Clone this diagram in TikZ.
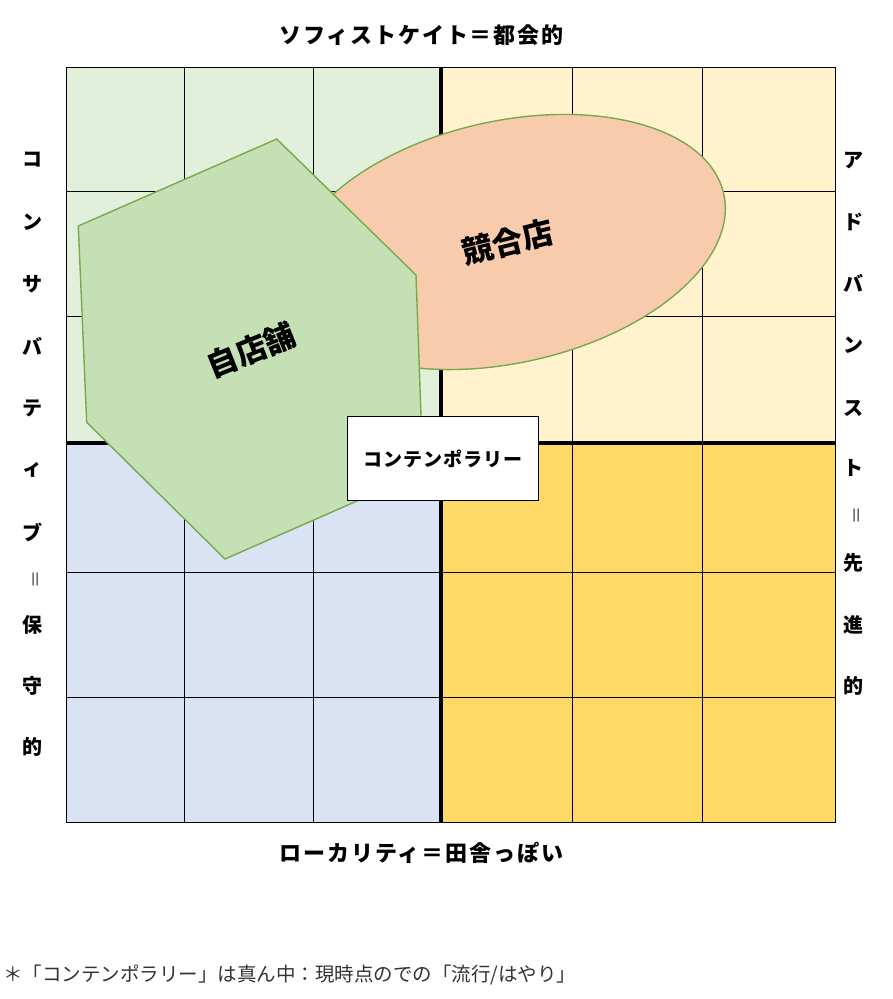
\documentclass[tikz,border=0pt]{standalone}
\usepackage{fontspec}
\setmainfont{Noto Sans CJK JP}
\usepackage{graphicx}
\definecolor{qTL}{HTML}{E2EFDA}
\definecolor{qTR}{HTML}{FFF2CC}
\definecolor{qBL}{HTML}{DAE3F3}
\definecolor{qBR}{HTML}{FFD966}
\definecolor{hexfill}{HTML}{C5E0B4}
\definecolor{shapeline}{HTML}{78A94E}
\definecolor{ellfill}{HTML}{F8CBAD}
\definecolor{notegray}{HTML}{333333}
\tikzset{
  gridthin/.style={line width=1pt, draw=black},
  gridthick/.style={line width=4.5pt, draw=black},
  blob/.style={draw=shapeline, line width=1.4pt},
  axislabel/.style={inner sep=0pt, font=\fontsize{22}{26}\selectfont\bfseries\addfontfeature{LetterSpace=9}},
  vchar/.style={inner sep=0pt, font=\fontsize{20}{24}\selectfont\bfseries},
  veq/.style={inner sep=0pt, text=black!75, font=\fontsize{18}{20}\selectfont},
  biglabel/.style={inner sep=0pt, font=\fontsize{31}{36}\selectfont\bfseries},
  centerbox/.style={draw=black, line width=1.5pt, fill=white, minimum width=191pt, minimum height=84pt, inner sep=0pt,
    font=\fontsize{19}{23}\selectfont\bfseries\addfontfeature{LetterSpace=5}},
  notetext/.style={inner sep=0pt, anchor=west, text=notegray, font=\fontsize{19.5}{23}\selectfont}
}
\begin{document}
\begin{tikzpicture}[x=1pt,y=1pt]
\useasboundingbox (0,0) rectangle (893,-999);
\fill[white] (0,0) rectangle (893,-999);
% quadrants
\fill[qTL] (66,-67) rectangle (441,-443);
\fill[qTR] (441,-67) rectangle (835,-443);
\fill[qBL] (66,-443) rectangle (441,-822);
\fill[qBR] (441,-443) rectangle (835,-822);
% grid
\foreach \gx in {184,313,572,702} \draw[gridthin] (\gx,-67) -- (\gx,-822);
\foreach \gy in {191,316,572,697} \draw[gridthin] (66,-\gy) -- (835,-\gy);
\draw[gridthin] (66,-67) rectangle (835,-822);
\draw[gridthick] (441,-67) -- (441,-822);
\draw[gridthick] (66,-443) -- (835,-443);
% competitor ellipse
\draw[blob, fill=ellfill, rotate around={12.5:(507,-242)}] (507,-242) ellipse [x radius=222, y radius=121];
% own store hexagon
\draw[blob, fill=hexfill] (276.7,-139) -- (416,-275) -- (423,-472) -- (225,-559) -- (86.7,-422.3) -- (78.3,-226) -- cycle;
% labels
\node[biglabel, rotate=14] (comp) at (508,-242) {競合店};
\node[biglabel, rotate=22] (own) at (251,-350) {自店舗};
\node[centerbox] (contemp) at (443,-458.5) {コンテンポラリー};
% axis labels
\node[axislabel] (topaxis) at (421.5,-35) {ソフィストケイト＝都会的};
\node[axislabel] (bottomaxis) at (421.5,-853) {ローカリティ＝田舎っぽい};
\foreach \c/\yy [count=\i] in {コ/160, ン/222, サ/284, バ/346, テ/408, ィ/470, ブ/532, 保/625, 守/686, 的/747}
  \node[vchar] (L\i) at (32,-\yy) {\c};
\node[veq] (Leq) at (38,-579) {\rotatebox{90}{＝}};
\foreach \c/\yy [count=\i] in {ア/160, ド/222, バ/283, ン/345, ス/408, ト/468, 先/563, 進/625, 的/686}
  \node[vchar] (R\i) at (853,-\yy) {\c};
\node[veq] (Req) at (859,-515) {\rotatebox{90}{＝}};
% footnote
\node[notetext] (note) at (3,-975) {＊「コンテンポラリー」は真ん中：現時点のでの「流行/はやり」};
\end{tikzpicture}
\end{document}
